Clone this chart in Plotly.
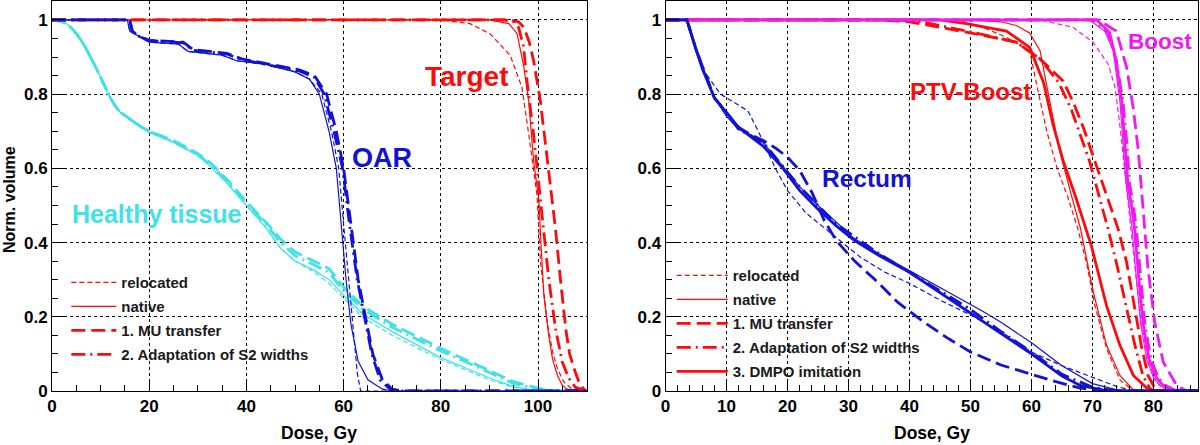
import plotly.graph_objects as go

# ---------------- LEFT PANEL DATA ----------------
# Healthy tissue (cyan)
ht_native_dose = [0, 1, 2, 3, 4, 5, 6, 7, 8, 9, 10, 11, 12, 13, 14, 16, 18, 20, 25, 30, 33, 36, 40, 44, 47, 50, 54, 57, 60, 64, 70, 80, 90, 95, 100, 110]
ht_native_vol = [1, 0.999, 0.996, 0.99, 0.978, 0.963, 0.945, 0.923, 0.9, 0.873, 0.845, 0.816, 0.79, 0.768, 0.752, 0.732, 0.713, 0.697, 0.67, 0.635, 0.6, 0.56, 0.5, 0.44, 0.385, 0.35, 0.325, 0.3, 0.258, 0.207, 0.16, 0.09, 0.035, 0.012, 0, 0]
ht_reloc_dose = [0, 1, 2, 3, 4, 5, 6, 7, 8, 9, 10, 11, 12, 13, 14, 16, 18, 20, 25, 30, 33, 36, 40, 44, 47, 50, 54, 57, 60, 64, 70, 80, 90, 95, 100, 110]
ht_reloc_vol = [1, 0.999, 0.996, 0.99, 0.978, 0.963, 0.945, 0.923, 0.9, 0.873, 0.845, 0.816, 0.79, 0.768, 0.752, 0.732, 0.713, 0.697, 0.67, 0.635, 0.6, 0.56, 0.5, 0.44, 0.385, 0.35, 0.32, 0.29, 0.25, 0.198, 0.15, 0.085, 0.03, 0.01, 0, 0]
ht_mu_dose = [0, 1, 2, 3, 4, 5, 6, 7, 8, 9, 10, 11, 12, 13, 14, 16, 18, 20, 25, 30, 33, 36, 40, 44, 47, 50, 54, 57, 60, 64, 70, 80, 90, 95, 100, 103, 110]
ht_mu_vol = [1, 0.999, 0.996, 0.99, 0.978, 0.963, 0.945, 0.923, 0.9, 0.873, 0.845, 0.816, 0.79, 0.768, 0.752, 0.733, 0.715, 0.7, 0.675, 0.64, 0.61, 0.57, 0.51, 0.455, 0.41, 0.375, 0.35, 0.33, 0.28, 0.228, 0.18, 0.115, 0.055, 0.025, 0.008, 0, 0]
ht_s2_dose = [0, 1, 2, 3, 4, 5, 6, 7, 8, 9, 10, 11, 12, 13, 14, 16, 18, 20, 25, 30, 33, 36, 40, 44, 47, 50, 54, 57, 60, 64, 70, 80, 90, 95, 100, 103, 110]
ht_s2_vol = [1, 0.999, 0.996, 0.99, 0.978, 0.963, 0.945, 0.923, 0.9, 0.873, 0.845, 0.816, 0.79, 0.768, 0.752, 0.733, 0.715, 0.7, 0.672, 0.637, 0.605, 0.565, 0.505, 0.45, 0.4, 0.365, 0.34, 0.32, 0.27, 0.22, 0.172, 0.108, 0.05, 0.02, 0.005, 0, 0]

# Target (red)
tg_native_dose = [0, 90, 94, 95.7, 97.1, 98.1, 99.1, 100.2, 100.6, 101.2, 102.2, 103, 104, 105, 106, 110]
tg_native_vol = [1, 1, 0.99, 0.963, 0.872, 0.78, 0.62, 0.51, 0.4, 0.258, 0.15, 0.085, 0.042, 0.015, 0.005, 0]
tg_reloc_dose = [0, 80, 86, 90.2, 94.3, 96.7, 98, 99.8, 100.5, 101.9, 103, 104, 105.3, 106.7, 110]
tg_reloc_vol = [1, 1, 0.99, 0.962, 0.904, 0.818, 0.7, 0.527, 0.35, 0.186, 0.105, 0.06, 0.025, 0.008, 0]
tg_mu_dose = [0, 94, 96, 97.1, 98.2, 99.1, 100.5, 101.5, 102.9, 103.6, 104.6, 105.7, 106.5, 107.4, 108.4, 109.4, 110]
tg_mu_vol = [1, 1, 0.995, 0.98, 0.94, 0.89, 0.78, 0.666, 0.52, 0.437, 0.303, 0.168, 0.1, 0.061, 0.025, 0.005, 0]
tg_s2_dose = [0, 93, 95, 96, 97, 97.8, 99.1, 100.2, 101.2, 102.2, 103.6, 105, 106.3, 107.7, 110]
tg_s2_vol = [1, 1, 0.995, 0.98, 0.93, 0.828, 0.69, 0.55, 0.437, 0.303, 0.168, 0.078, 0.035, 0.01, 0]

# OAR (blue)
oar_native_dose = [0, 15.5, 16, 18, 20, 26, 28, 35, 38, 44, 50, 53, 55, 57, 58.5, 59.5, 60.5, 61.5, 63, 65, 68, 70, 110]
oar_native_vol = [1, 1, 0.97, 0.955, 0.94, 0.935, 0.915, 0.905, 0.89, 0.88, 0.86, 0.84, 0.8, 0.7, 0.6, 0.45, 0.3, 0.18, 0.08, 0.03, 0.005, 0, 0]
oar_reloc_dose = [0, 15.5, 16, 18, 20, 26, 28, 35, 38, 44, 50, 53, 55.5, 57.5, 59, 60, 61, 62, 62.8, 63.5, 110]
oar_reloc_vol = [1, 1, 0.97, 0.955, 0.94, 0.935, 0.915, 0.905, 0.89, 0.88, 0.86, 0.84, 0.8, 0.7, 0.6, 0.45, 0.3, 0.15, 0.05, 0, 0]
oar_mu_dose = [0, 16, 16.5, 18, 20, 27, 29, 36, 39, 45, 51, 54, 56.5, 58.5, 60, 61.5, 63, 64.5, 66, 68, 70, 72, 110]
oar_mu_vol = [1, 1, 0.97, 0.955, 0.945, 0.94, 0.92, 0.91, 0.895, 0.88, 0.865, 0.85, 0.8, 0.7, 0.6, 0.45, 0.3, 0.2, 0.1, 0.03, 0.005, 0, 0]
oar_s2_dose = [0, 16, 16.5, 18, 20, 27, 29, 36, 39, 45, 51, 54, 56, 58, 59.8, 61.2, 62.8, 64.3, 65.8, 67.5, 70, 110]
oar_s2_vol = [1, 1, 0.97, 0.955, 0.945, 0.938, 0.918, 0.908, 0.893, 0.878, 0.862, 0.845, 0.8, 0.7, 0.6, 0.45, 0.3, 0.2, 0.1, 0.03, 0, 0]

# ---------------- RIGHT PANEL DATA ----------------
# Rectum (blue)
re_dmpo_dose = [0, 3.5, 5, 6, 8, 10, 12, 14, 16, 19, 22, 25, 28, 31, 35, 40, 45, 50, 55, 60, 65, 68, 72, 75, 87.3]
re_dmpo_vol = [1, 1, 0.92, 0.87, 0.79, 0.75, 0.71, 0.685, 0.66, 0.605, 0.54, 0.49, 0.445, 0.405, 0.365, 0.32, 0.265, 0.21, 0.155, 0.1, 0.04, 0.015, 0.002, 0, 0]
re_native_dose = [0, 3.5, 5, 8, 10, 12, 14, 16, 19, 22, 25, 28, 31, 35, 40, 45, 50, 52, 55, 60, 65, 70, 74, 76, 87.3]
re_native_vol = [1, 1, 0.92, 0.79, 0.74, 0.705, 0.69, 0.67, 0.61, 0.55, 0.5, 0.455, 0.41, 0.37, 0.325, 0.28, 0.235, 0.215, 0.185, 0.13, 0.068, 0.02, 0.003, 0, 0]
re_reloc_dose = [0, 3.5, 6, 9, 11, 13.5, 15.5, 18, 20, 23, 26, 29, 32, 36, 40, 45, 50, 55, 60, 65, 70, 74, 77, 87.3]
re_reloc_vol = [1, 1, 0.87, 0.8, 0.78, 0.755, 0.69, 0.6, 0.54, 0.48, 0.44, 0.4, 0.36, 0.32, 0.29, 0.245, 0.205, 0.16, 0.105, 0.068, 0.038, 0.012, 0, 0]
re_mu_dose = [0, 3.5, 5, 8, 10, 12, 14, 16, 18, 20, 22, 24, 26, 28, 31, 35, 38, 42, 46, 50, 55, 60, 64, 68, 72, 87.3]
re_mu_vol = [1, 1, 0.92, 0.79, 0.75, 0.71, 0.69, 0.675, 0.655, 0.63, 0.594, 0.535, 0.46, 0.405, 0.35, 0.29, 0.24, 0.19, 0.145, 0.105, 0.07, 0.045, 0.025, 0.008, 0, 0]
re_s2_dose = [0, 3.5, 5, 8, 10, 12, 16, 22, 28, 35, 40, 45, 50, 55, 60, 65, 70, 74, 87.3]
re_s2_vol = [1, 1, 0.92, 0.79, 0.75, 0.705, 0.67, 0.55, 0.45, 0.37, 0.32, 0.27, 0.22, 0.16, 0.105, 0.045, 0.01, 0, 0]

# PTV-Boost (red)
pb_native_dose = [0, 50, 55, 57.5, 59.7, 61.4, 63, 64.6, 66.5, 68, 70.1, 72.3, 74.5, 76.6, 78, 87.3]
pb_native_vol = [1, 1, 0.995, 0.985, 0.965, 0.917, 0.78, 0.648, 0.53, 0.44, 0.27, 0.123, 0.042, 0.005, 0, 0]
pb_reloc_dose = [0, 45, 49, 52, 55.9, 59.7, 60.8, 62.5, 64.2, 66, 67.6, 69, 70.4, 72.3, 74.5, 76.5, 78, 87.3]
pb_reloc_vol = [1, 1, 0.995, 0.98, 0.953, 0.917, 0.83, 0.7, 0.6, 0.52, 0.437, 0.347, 0.23, 0.115, 0.03, 0.003, 0, 0]
pb_mu_dose = [0, 35, 40, 50, 57.5, 61.4, 65.2, 66.8, 68.5, 69.8, 71.2, 72.8, 74.2, 75.6, 76.8, 78, 79.1, 80.2, 81, 87.3]
pb_mu_vol = [1, 1, 0.995, 0.965, 0.94, 0.895, 0.835, 0.78, 0.71, 0.648, 0.576, 0.5, 0.437, 0.347, 0.24, 0.123, 0.042, 0.008, 0, 0]
pb_s2_dose = [0, 38, 42, 50, 57.5, 61.4, 64.5, 66.5, 68, 69.5, 71, 72.5, 74, 75.5, 77, 78.3, 79.5, 80.5, 87.3]
pb_s2_vol = [1, 1, 0.995, 0.968, 0.94, 0.895, 0.83, 0.76, 0.69, 0.62, 0.53, 0.44, 0.34, 0.23, 0.12, 0.04, 0.005, 0, 0]
pb_dmpo_dose = [0, 45, 49.3, 55.9, 59.7, 62, 63.5, 65.2, 67.3, 69.8, 72.3, 74.5, 76.7, 78.9, 80, 87.3]
pb_dmpo_vol = [1, 1, 0.99, 0.97, 0.926, 0.83, 0.72, 0.62, 0.52, 0.392, 0.23, 0.123, 0.042, 0.008, 0, 0]

# Boost (magenta)
bo_dmpo_dose = [0, 70.7, 72.8, 73.9, 74.8, 75.3, 75.8, 76.4, 76.9, 77.5, 78.3, 79.3, 80.5, 81.6, 83.2, 87.3]
bo_dmpo_vol = [1, 1, 0.966, 0.89, 0.78, 0.675, 0.558, 0.5, 0.437, 0.32, 0.18, 0.085, 0.035, 0.015, 0, 0]
bo_native_dose = [0, 69.5, 72, 73.4, 74.5, 75, 75.5, 76, 76.5, 77.1, 77.9, 78.9, 80, 81.2, 83, 87.3]
bo_native_vol = [1, 1, 0.97, 0.917, 0.78, 0.675, 0.558, 0.5, 0.437, 0.32, 0.18, 0.085, 0.035, 0.012, 0, 0]
bo_s2_dose = [0, 70, 72.5, 73.9, 75, 75.6, 76.1, 76.7, 77.2, 77.8, 78.6, 79.6, 80.8, 82, 83.8, 87.3]
bo_s2_vol = [1, 1, 0.966, 0.89, 0.78, 0.675, 0.558, 0.5, 0.437, 0.32, 0.18, 0.085, 0.035, 0.015, 0, 0]
bo_reloc_dose = [0, 62, 66.8, 70.1, 72.6, 73.7, 74.6, 75.2, 75.8, 76.4, 77.2, 78.1, 79, 80.2, 82, 87.3]
bo_reloc_vol = [1, 0.998, 0.98, 0.94, 0.88, 0.818, 0.7, 0.6, 0.5, 0.42, 0.3, 0.18, 0.09, 0.03, 0, 0]
bo_mu_dose = [0, 71, 73.9, 75.6, 76.7, 77.5, 78, 78.6, 79.1, 80.2, 81.6, 83.8, 85.4, 87.3]
bo_mu_vol = [1, 1, 0.97, 0.872, 0.76, 0.65, 0.55, 0.437, 0.33, 0.186, 0.078, 0.015, 0, 0]

legend_left = ["relocated", "native", "1. MU transfer", "2. Adaptation of S2 widths"]
legend_right = ["relocated", "native", "1. MU transfer", "2. Adaptation of S2 widths", "3. DMPO imitation"]

CYAN = "#3ee2e8"
BLUE = "#1212d6"
RED = "#ff0a0a"
MAGENTA = "#f01af0"

STYLES = {
    "relocated": dict(width=1.2, dash="5px,3px"),
    "native": dict(width=1.2, dash="solid"),
    "1. MU transfer": dict(width=2.8, dash="14px,6px"),
    "2. Adaptation of S2 widths": dict(width=2.8, dash="14px,5px,2px,5px"),
    "3. DMPO imitation": dict(width=2.8, dash="solid"),
}

FONT = "Liberation Sans, Arial, Helvetica, sans-serif"
fig = go.Figure()


def add_curve(dose, vol, color, style, xa, ya):
    fig.add_trace(go.Scatter(
        x=dose, y=vol, mode="lines", xaxis=xa, yaxis=ya, showlegend=False,
        line=dict(color=color, shape="linear", **STYLES[style]),
        hoverinfo="skip"))


# left panel: cyan, red, blue
for d, v, s in [(ht_reloc_dose, ht_reloc_vol, "relocated"), (ht_native_dose, ht_native_vol, "native"),
                (ht_mu_dose, ht_mu_vol, "1. MU transfer"), (ht_s2_dose, ht_s2_vol, "2. Adaptation of S2 widths")]:
    add_curve(d, v, CYAN, s, "x", "y")
for d, v, s in [(tg_reloc_dose, tg_reloc_vol, "relocated"), (tg_native_dose, tg_native_vol, "native"),
                (tg_mu_dose, tg_mu_vol, "1. MU transfer"), (tg_s2_dose, tg_s2_vol, "2. Adaptation of S2 widths")]:
    add_curve(d, v, RED, s, "x", "y")
for d, v, s in [(oar_reloc_dose, oar_reloc_vol, "relocated"), (oar_native_dose, oar_native_vol, "native"),
                (oar_mu_dose, oar_mu_vol, "1. MU transfer"), (oar_s2_dose, oar_s2_vol, "2. Adaptation of S2 widths")]:
    add_curve(d, v, BLUE, s, "x", "y")

# right panel: red, magenta, blue
for d, v, s in [(pb_reloc_dose, pb_reloc_vol, "relocated"), (pb_native_dose, pb_native_vol, "native"),
                (pb_mu_dose, pb_mu_vol, "1. MU transfer"), (pb_s2_dose, pb_s2_vol, "2. Adaptation of S2 widths"),
                (pb_dmpo_dose, pb_dmpo_vol, "3. DMPO imitation")]:
    add_curve(d, v, RED, s, "x2", "y2")
for d, v, s in [(bo_reloc_dose, bo_reloc_vol, "relocated"), (bo_native_dose, bo_native_vol, "native"),
                (bo_mu_dose, bo_mu_vol, "1. MU transfer"), (bo_s2_dose, bo_s2_vol, "2. Adaptation of S2 widths"),
                (bo_dmpo_dose, bo_dmpo_vol, "3. DMPO imitation")]:
    add_curve(d, v, MAGENTA, s, "x2", "y2")
for d, v, s in [(re_reloc_dose, re_reloc_vol, "relocated"), (re_native_dose, re_native_vol, "native"),
                (re_mu_dose, re_mu_vol, "1. MU transfer"), (re_s2_dose, re_s2_vol, "2. Adaptation of S2 widths"),
                (re_dmpo_dose, re_dmpo_vol, "3. DMPO imitation")]:
    add_curve(d, v, BLUE, s, "x2", "y2")

# legend entries (red samples)
for i, name in enumerate(legend_left):
    fig.add_trace(go.Scatter(x=[None], y=[None], mode="lines", name=name, legend="legend",
                             legendgroup="L%d" % i, xaxis="x", yaxis="y",
                             line=dict(color=RED, **STYLES[name])))
for i, name in enumerate(legend_right):
    fig.add_trace(go.Scatter(x=[None], y=[None], mode="lines", name=name, legend="legend2",
                             legendgroup="R%d" % i, xaxis="x2", yaxis="y2",
                             line=dict(color=RED, **STYLES[name])))

tickfont = dict(family=FONT, size=17, color="black", weight="bold")
common_x = dict(showline=True, linecolor="black", linewidth=1, mirror=True, ticks="inside", ticklen=12,
                tickcolor="black", tickwidth=1, showgrid=True, gridcolor="black", griddash="dot", gridwidth=1,
                zeroline=False, tickfont=tickfont, tick0=0)
xa1 = dict(common_x, domain=[0, 0.4665], range=[0, 110], dtick=20, anchor="y",
           minor=dict(dtick=5, ticks="inside", ticklen=6, tickcolor="black", showgrid=False))
xa2 = dict(common_x, domain=[0.5354, 1], range=[0, 87.3], dtick=10, anchor="y2",
           minor=dict(dtick=2, ticks="inside", ticklen=6, tickcolor="black", showgrid=False))
ya = dict(common_x, range=[0, 1.051], dtick=0.2, domain=[0, 1],
          minor=dict(dtick=0.05, ticks="inside", ticklen=6, tickcolor="black", showgrid=False))

legend_common = dict(xref="paper", yref="paper", xanchor="left", yanchor="top", bgcolor="rgba(0,0,0,0)",
                     font=dict(family=FONT, size=15, color="#1a1a1a", weight="bold"),
                     traceorder="grouped", tracegroupgap=1.5, borderwidth=0)

fig.update_layout(
    width=1200, height=445, margin=dict(l=52, r=2, t=1, b=54),
    paper_bgcolor="white", plot_bgcolor="white",
    xaxis=xa1, yaxis=dict(ya, anchor="x"),
    xaxis2=xa2, yaxis2=dict(ya, anchor="x2"),
    legend=dict(legend_common, x=0.0125, y=0.32, itemwidth=45),
    legend2=dict(legend_common, x=0.5408, y=0.338, itemwidth=51),
    showlegend=True,
)

lab = lambda t, x, y, xr, yr, c, s: fig.add_annotation(
    text=t, x=x, y=y, xref=xr, yref=yr, showarrow=False, xanchor="center", yanchor="middle",
    font=dict(family=FONT, size=s, color=c, weight="bold"))
lab("Target", 85.3, 0.847, "x", "y", RED, 28)
lab("OAR", 68.0, 0.628, "x", "y", BLUE, 27)
lab("Healthy tissue", 21.7, 0.476, "x", "y", CYAN, 25)
lab("Rectum", 33.0, 0.574, "x2", "y2", BLUE, 24.5)
lab("PTV-Boost", 50.05, 0.808, "x2", "y2", RED, 24)
lab("Boost", 81.0, 0.941, "x2", "y2", MAGENTA, 22.5)

title_font = dict(family=FONT, size=17.5, color="black", weight="bold")
fig.add_annotation(text="Norm. volume", x=-0.0366, y=0.49, xref="paper", yref="paper", showarrow=False,
                   xanchor="center", yanchor="middle", textangle=-90,
                   font=dict(family=FONT, size=16, color="black", weight="bold"))
fig.add_annotation(text="Dose, Gy", x=0.2329, y=-0.1077, xref="paper", yref="paper", showarrow=False,
                   xanchor="center", yanchor="middle", font=title_font)
fig.add_annotation(text="Dose, Gy", x=0.7677, y=-0.1077, xref="paper", yref="paper", showarrow=False,
                   xanchor="center", yanchor="middle", font=title_font)

fig.write_html("out.html", config={"displayModeBar": False},
               post_script="document.body.style.margin='0';document.body.style.padding='0';"
                           "document.documentElement.style.overflow='hidden';")
